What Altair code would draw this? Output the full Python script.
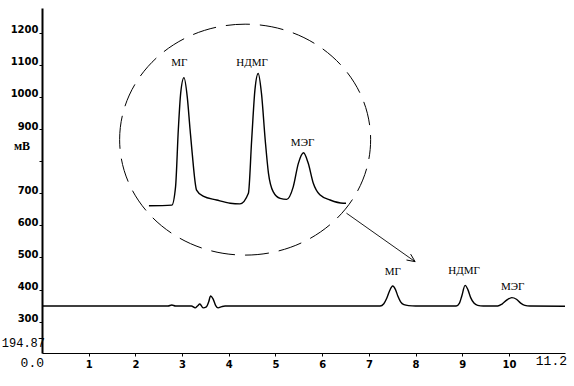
import altair as alt
import pandas as pd

# Main chromatogram (time, min; signal, mV)
main_t = [0.0, 1.0, 2.0, 2.70, 2.78, 2.86, 3.20, 3.28, 3.33, 3.38, 3.45, 3.52, 3.57, 3.61, 3.66, 3.72, 3.77, 3.85, 3.92,
          5.0, 6.5, 7.24, 7.32, 7.38, 7.44, 7.51, 7.57, 7.62, 7.68, 7.75, 7.85, 8.0,
          8.87, 8.94, 8.99, 9.06, 9.12, 9.18, 9.25, 9.33, 9.45,
          9.76, 9.85, 9.95, 10.06, 10.16, 10.25, 10.34, 10.45, 11.2]
main_v = [349, 349, 349, 349, 352, 349, 349, 343, 349, 355, 343, 346, 362, 380, 372, 350, 343, 347, 349,
          349, 349, 349, 356, 372, 395, 411, 400, 380, 362, 353, 350, 349,
          349, 358, 380, 413, 400, 375, 358, 351, 349,
          349, 355, 367, 375, 370, 358, 351, 349, 348]

# Magnified inset chromatogram
ins_t = [2.29, 2.78, 2.86, 2.92, 2.97, 3.04, 3.11, 3.17, 3.21, 3.31, 3.45, 3.74, 4.03, 4.24,
         4.42, 4.49, 4.56, 4.63, 4.70, 4.78, 4.85, 4.95, 5.10, 5.24,
         5.38, 5.49, 5.60, 5.70, 5.81, 5.95, 6.17, 6.45, 6.51]
ins_v = [661, 663, 720, 900, 1012, 1060, 1001, 900, 835, 710, 691, 679, 669, 667,
         700, 866, 1022, 1073, 1011, 866, 762, 705, 684, 681,
         720, 793, 826, 794, 731, 695, 679, 669, 669]

# Peak labels
lab_text = ["МГ", "НДМГ", "МЭГ", "МГ", "НДМГ", "МЭГ"]
lab_t = [2.94, 4.50, 5.58, 7.51, 9.04, 10.08]
lab_v = [1107, 1107, 855, 454, 459, 409]

# Ellipse (circle) around the inset and arrow
ell_t, ell_v = [4.35], [867]
arrow_t = [6.52, 7.99]
arrow_v = [638, 487]

y_ticks = [300, 400, 500, 600, 700, 800, 900, 1000, 1100, 1200]
x_ticks = [1, 2, 3, 4, 5, 6, 7, 8, 9, 10]

xs = alt.Scale(domain=[0, 11.2], nice=False, zero=False)
ys = alt.Scale(domain=[202.5, 1277], nice=False, zero=False)

main_df = pd.DataFrame({"t": main_t, "v": main_v})
ins_df = pd.DataFrame({"t": ins_t, "v": ins_v})
lab_df = pd.DataFrame({"t": lab_t, "v": lab_v, "txt": lab_text})
ell_df = pd.DataFrame({"t": ell_t, "v": ell_v})
arr_df = pd.DataFrame({"t": arrow_t, "v": arrow_v})
tip_df = arr_df.iloc[[1]]

xax = alt.Axis(values=x_ticks, format="d", title=None, grid=False, domainWidth=1, labelPadding=3,
               labelOverlap=False)
yax = alt.Axis(values=y_ticks, format="d", title=None, grid=False, domainWidth=2, labelPadding=1,
               labelBaseline="bottom", labelOverlap=False, labelOffset=2,
               labelExpr="datum.value == 800 ? '' : datum.label")

X = alt.X("t:Q", scale=xs, axis=xax)
Y = alt.Y("v:Q", scale=ys, axis=yax)

main_line = alt.Chart(main_df).mark_line(color="black", strokeWidth=1.4, interpolate="monotone").encode(
    x=X, y=Y)
ins_line = alt.Chart(ins_df).mark_line(color="black", strokeWidth=1.4, interpolate="monotone").encode(
    x=X, y=Y)

labels = alt.Chart(lab_df).mark_text(font="Liberation Serif", fontSize=11, color="black").encode(
    x=X, y=Y, text="txt:N")

k = 0.92
c = 0.5523
ell_path = (f"M-1,0 C-1,{-c*k:.4f} {-c:.4f},{-k} 0,{-k} C{c:.4f},{-k} 1,{-c*k:.4f} 1,0 "
            f"C1,{c*k:.4f} {c:.4f},{k} 0,{k} C{-c:.4f},{k} -1,{c*k:.4f} -1,0 Z")
ellipse = alt.Chart(ell_df).mark_point(shape=ell_path, size=251 * 251, filled=False, color="black",
                                       strokeWidth=1, strokeDash=[24, 10], opacity=1).encode(
    x=X, y=Y)

arrow_line = alt.Chart(arr_df).mark_line(color="black", strokeWidth=0.9).encode(x=X, y=Y)
arrow_head = alt.Chart(tip_df).mark_point(shape="M0,0 L-1,-0.45 M0,0 L-1,0.45", size=256, angle=35,
                                          filled=False, color="black", strokeWidth=0.9, opacity=1).encode(
    x=X, y=Y)

one = pd.DataFrame({"a": [0]})
unit = alt.Chart(one).mark_text(font="Liberation Serif", fontWeight="bold", fontSize=12,
                                color="black", align="center", baseline="middle").encode(
    x=alt.value(-20), y=alt.value(138), text=alt.value("мВ"))
ymin_lab = alt.Chart(one).mark_text(font="Liberation Mono", fontSize=12, color="black",
                                    align="right", baseline="middle").encode(
    x=alt.value(3), y=alt.value(335), text=alt.value("194.87"))
x0_lab = alt.Chart(one).mark_text(font="Liberation Mono", fontSize=13, color="black",
                                  align="right", baseline="middle").encode(
    x=alt.value(2), y=alt.value(355), text=alt.value("0.0"))
xmax_lab = alt.Chart(one).mark_text(font="Liberation Mono", fontSize=13, color="black",
                                    align="right", baseline="middle").encode(
    x=alt.value(525), y=alt.value(353), text=alt.value("11.2"))

chart = alt.layer(main_line, ins_line, labels, ellipse, arrow_line, arrow_head,
                  unit, ymin_lab, x0_lab, xmax_lab).properties(
    width=523, height=345, autosize=alt.AutoSizeParams(type="none"),
    padding={"left": 42, "top": 8, "right": 9, "bottom": 33},
    background="white"
).configure_view(stroke=None).configure_axis(
    labelFont="DejaVu Sans", labelFontWeight="bold", labelFontSize=10, labelColor="black",
    tickSize=3, tickColor="black", domainColor="black", labelOverlap=False
)

chart.save("out.html", embed_options={"renderer": "svg", "actions": False})
